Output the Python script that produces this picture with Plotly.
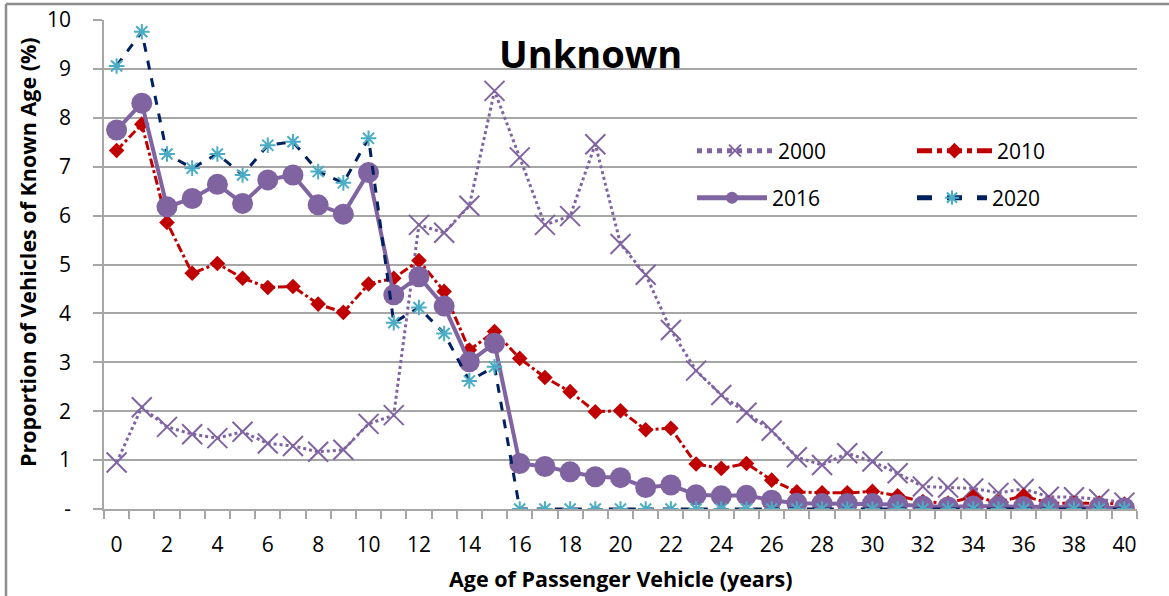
import plotly.graph_objects as go

ages = [0, 1, 2, 3, 4, 5, 6, 7, 8, 9, 10, 11, 12, 13, 14, 15, 16, 17, 18, 19, 20,
        21, 22, 23, 24, 25, 26, 27, 28, 29, 30, 31, 32, 33, 34, 35, 36, 37, 38, 39, 40]

y2000 = [0.95, 2.08, 1.68, 1.53, 1.45, 1.58, 1.34, 1.29, 1.17, 1.21, 1.74, 1.92,
         5.81, 5.65, 6.20, 8.55, 7.19, 5.81, 5.99, 7.46, 5.42, 4.79, 3.66, 2.83,
         2.33, 1.97, 1.60, 1.06, 0.90, 1.14, 0.97, 0.73, 0.46, 0.44, 0.42, 0.33,
         0.41, 0.25, 0.24, 0.20, 0.13]

y2010 = [7.33, 7.87, 5.86, 4.82, 5.02, 4.72, 4.53, 4.55, 4.19, 4.02, 4.60, 4.72,
         5.08, 4.45, 3.25, 3.63, 3.08, 2.69, 2.40, 1.99, 2.01, 1.62, 1.65, 0.92,
         0.83, 0.93, 0.59, 0.35, 0.33, 0.33, 0.36, 0.27, 0.15, 0.12, 0.25, 0.14,
         0.27, 0.12, 0.12, 0.12, 0.10]

y2016 = [7.75, 8.30, 6.18, 6.35, 6.64, 6.25, 6.73, 6.83, 6.22, 6.03, 6.88, 4.38,
         4.75, 4.15, 3.01, 3.39, 0.93, 0.87, 0.76, 0.66, 0.64, 0.44, 0.49, 0.29,
         0.27, 0.28, 0.18, 0.12, 0.11, 0.11, 0.11, 0.09, 0.06, 0.04, 0.06, 0.05,
         0.05, 0.04, 0.03, 0.03, 0.02]

y2020 = [9.06, 9.76, 7.26, 6.97, 7.26, 6.83, 7.44, 7.51, 6.90, 6.67, 7.58, 3.81,
         4.12, 3.59, 2.62, 2.91, 0.0, 0.0, 0.0, 0.0, 0.0, 0.0, 0.0, 0.0,
         0.0, 0.0, 0.0, 0.0, 0.0, 0.0, 0.0, 0.0, 0.0, 0.0, 0.0, 0.0,
         0.0, 0.0, 0.0, 0.0, 0.0]

y_tickvals = [0, 1, 2, 3, 4, 5, 6, 7, 8, 9, 10]
y_ticktext = ["-", "1", "2", "3", "4", "5", "6", "7", "8", "9", "10"]
x_tickvals = [0, 2, 4, 6, 8, 10, 12, 14, 16, 18, 20, 22, 24, 26, 28, 30, 32, 34, 36, 38, 40]

PURPLE = "#8064A2"
RED = "#C00000"
NAVY = "#002060"
CYAN = "#4BACC6"
GRID = "#A6A6A6"
FONT = "Open Sans"

fig = go.Figure()
fig.add_trace(go.Scatter(
    x=ages, y=y2000, name="2000", mode="lines+markers", legend="legend",
    showlegend=True,
    line=dict(color=PURPLE, width=3, dash="dot"),
    marker=dict(symbol="x-thin-open", size=20, color=PURPLE,
                line=dict(color=PURPLE, width=2))))
fig.add_trace(go.Scatter(
    x=ages, y=y2010, name="2010", mode="lines+markers", legend="legend2",
    showlegend=True,
    line=dict(color=RED, width=3, dash="dashdot"),
    marker=dict(symbol="diamond", size=12, color=RED)))
fig.add_trace(go.Scatter(
    x=ages, y=y2016, name="2016", mode="lines+markers", legend="legend3",
    showlegend=True,
    line=dict(color=PURPLE, width=4),
    marker=dict(symbol="circle", size=21, color=PURPLE)))
fig.add_trace(go.Scatter(
    x=ages, y=y2020, name="2020", mode="lines+markers", legend="legend4",
    showlegend=True,
    line=dict(color=NAVY, width=3, dash="dash"),
    marker=dict(symbol="asterisk-open", size=13, color=CYAN,
                line=dict(color=CYAN, width=2))))

W, H = 1169, 596
L, R, T, B = 104, 32, 20, 87
pw, ph = W - L - R, H - T - B


def px2x(px):
    return (px - L) / pw


def px2y(py):
    return (H - B - py) / ph


leg_common = dict(font=dict(family=FONT, size=21, color="#000000"),
                  bgcolor="rgba(0,0,0,0)", xanchor="left", yanchor="middle",
                  itemsizing="constant")

fig.update_layout(
    width=W, height=H,
    showlegend=True,
    margin=dict(l=L, r=R, t=T, b=B, autoexpand=False),
    paper_bgcolor="white", plot_bgcolor="white",
    font=dict(family=FONT, color="#000000"),
    legend=dict(x=px2x(692), y=px2y(151), itemwidth=76, **leg_common),
    legend2=dict(x=px2x(912), y=px2y(151), itemwidth=75, **leg_common),
    legend3=dict(x=px2x(692), y=px2y(198), itemwidth=70, **leg_common),
    legend4=dict(x=px2x(912), y=px2y(198), itemwidth=70, **leg_common),
    xaxis=dict(
        range=[-0.5, 40.5], tickmode="array", tickvals=x_tickvals,
        ticks="", showgrid=False, zeroline=False,
        showline=True, linecolor=GRID, linewidth=1.5,
        tickfont=dict(family=FONT, size=21, color="#000000"),
        ticklabelstandoff=16,
        minor=dict(ticks="outside", tick0=-0.5, dtick=1, ticklen=8,
                   tickcolor=GRID, tickwidth=1.5, showgrid=False),
    ),
    yaxis=dict(
        range=[0, 10], tickmode="array", tickvals=y_tickvals, ticktext=y_ticktext,
        ticks="outside", ticklen=9, tickcolor=GRID, tickwidth=1.5,
        showgrid=True, gridcolor=GRID, gridwidth=1.5, zeroline=False,
        showline=True, linecolor=GRID, linewidth=1.5,
        tickfont=dict(family=FONT, size=21, color="#000000"),
        ticklabelstandoff=18,
    ),
    annotations=[
        dict(text="<b>Unknown</b>", x=px2x(590), y=px2y(53), xref="paper", yref="paper",
             showarrow=False, xanchor="center", yanchor="middle",
             font=dict(family=FONT, size=38, color="#000000")),
        dict(text="<b>Age of Passenger Vehicle (years)</b>", x=0.5, y=px2y(578),
             xref="paper", yref="paper", showarrow=False, xanchor="center",
             yanchor="middle", font=dict(family=FONT, size=21.5, color="#000000")),
        dict(text="<b>Proportion of Vehicles of Known Age (%)</b>", x=px2x(27),
             y=px2y(252), xref="paper", yref="paper", showarrow=False,
             xanchor="center", yanchor="middle", textangle=-90,
             font=dict(family=FONT, size=21.5, color="#000000")),
    ],
    shapes=[
        dict(type="line", xref="paper", yref="paper", x0=px2x(6), x1=px2x(1175),
             y0=px2y(4), y1=px2y(4), line=dict(color="#8C8C8C", width=2.5)),
        dict(type="line", xref="paper", yref="paper", x0=px2x(6), x1=px2x(6),
             y0=px2y(4), y1=px2y(600), line=dict(color="#8C8C8C", width=2.5)),
    ],
)

fig.write_html("out.html",
               config={"displayModeBar": False},
               post_script="document.body.style.margin='0';document.body.style.overflow='hidden';")
